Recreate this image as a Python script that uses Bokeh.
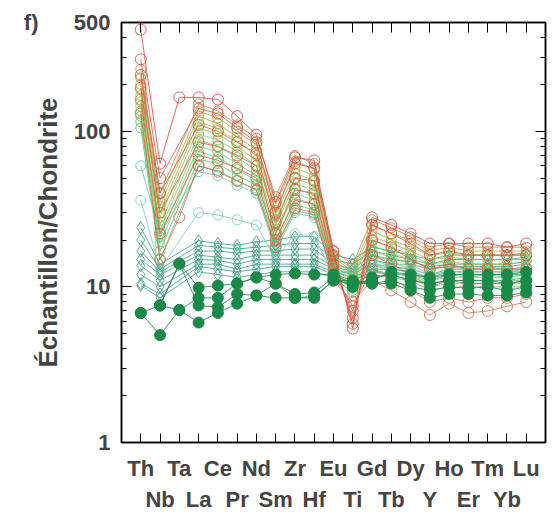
from bokeh.plotting import figure
from bokeh.models import LinearAxis, LogAxis, FixedTicker, PrintfTickFormatter
from bokeh.embed import file_html
from bokeh.resources import INLINE

elements = ["Th", "Nb", "Ta", "La", "Ce", "Pr", "Nd", "Sm", "Zr", "Hf", "Eu",
            "Ti", "Gd", "Tb", "Dy", "Y", "Ho", "Er", "Tm", "Yb", "Lu"]

# red group (open circles)
red_series = [
    [450, 62, 165, 165, 160, 125, 95, 35, 68, 65, 17, 5.4, 28, 25, 22, 19, 19, 19, 19, 18, 19],
    [290, 50, None, 140, 130, 105, 85, 30, 62, 58, 16, 5.8, 25, 22, 19, 16, 17, 16, 16, 16, 16],
    [230, 40, None, 110, 100, 85, 72, 26, 50, 48, 14, 6.3, 20, 18, 15, 13, 14, 13, 13, 13, 13],
    [190, 30, None, 85, 80, 70, 60, 22, 42, 40, 13, 7.0, 16, 14, 12, 10, 11, 10.5, 10.5, 10.5, 11],
    [160, 22, None, 70, 65, 58, 50, 20, 36, 34, 12, 7.5, 13, 11.5, 9.5, 8, 8.5, 8, 8.5, 8.5, 9],
    [130, 15, 28, 60, 55, 48, 42, 18, 32, 30, 11, 8.0, 11, 9.5, 8, 6.6, 7.8, 6.8, 7, 7.5, 8],
]

# olive to green group (open circles)
green_series = [
    [250, 40, None, 150, 135, 110, 90, 38, 70, 62, 17, 14, 27, 24, 21, 18, 19, 18, 18, 18, 18],
    [220, 36, None, 135, 122, 100, 82, 34, 64, 57, 16, 13, 25, 22, 20, 17, 18, 17, 17, 17, 17],
    [200, 33, None, 125, 112, 92, 76, 31, 58, 52, 15.5, 12.5, 23, 20, 18, 16, 16.5, 16, 16, 16, 16],
    [185, 30, None, 115, 104, 86, 70, 29, 54, 48, 15, 12, 21, 19, 17, 15, 15.5, 15, 15, 15, 15],
    [170, 28, None, 105, 96, 80, 65, 27, 50, 45, 14.5, 11.5, 20, 18, 16, 14, 14.5, 14, 14, 14, 14.5],
    [155, 25, None, 96, 88, 74, 60, 25, 46, 42, 14, 11, 18.5, 16.5, 15, 13, 13.5, 13, 13.5, 13, 13.5],
    [145, 23, None, 88, 80, 68, 56, 23, 43, 39, 13.5, 10.5, 17, 15.5, 14, 12, 12.5, 12.5, 12.5, 12.5, 12.5],
    [135, 21, None, 80, 74, 62, 52, 22, 40, 36, 13, 10, 16, 14.5, 13, 11, 12, 11.5, 12, 11.5, 12],
    [125, 19, None, 74, 68, 57, 48, 20, 37, 34, 12.5, 9.8, 15, 13.5, 12, 10.5, 11, 11, 11, 11, 11],
    [115, 17, None, 66, 62, 52, 45, 19, 34, 31, 12, 9.5, 14, 12.5, 11.5, 10, 10.5, 10.5, 10.5, 10.5, 10.5],
    [105, 15, None, 60, 56, 48, 42, 18, 31, 29, 11.5, 9.2, 13, 12, 11, 9.5, 10, 10, 10, 10, 10],
    [60, 22, None, 55, 52, 45, 40, 17, 30, 28, 12, 12.5, 14, 13, 12.5, 11, 11.5, 11.5, 11.5, 11.5, 12],
    [36, 13, None, 30, 29, 27, 25, 15, 22, 21, 12, 13, 14, 13.5, 13, 12, 12.5, 12.5, 12.5, 12.5, 13],
]

# teal group (open diamonds)
diamond_series = [
    [24, 14, None, 19.8, 19, 18.5, 19.5, 20, 21, 21, 16, 15, 18, 17, 16, 15, 16, 16, 16, 16, 16.5],
    [20, 13, None, 18.5, 18, 17.5, 18, 18.5, 19, 19, 15, 14, 17, 16, 15, 14, 15, 15, 15, 15, 15.5],
    [17, 12.5, None, 17, 17, 16.5, 17, 17, 17.5, 17.5, 14, 13, 16, 15, 14.5, 13.5, 14, 14, 14, 14, 14.5],
    [15, 12, None, 16, 15.5, 15, 16, 16, 16, 16, 13.5, 12.5, 15, 14, 14, 13, 13.5, 13.5, 13.5, 13.5, 14],
    [13.7, 11, None, 15, 14.8, 14, 15, 15, 15, 15, 13, 12, 14, 13.5, 13, 12, 13, 13, 13, 13, 13],
    [12, 10, None, 14, 14, 13, 14, 14, 14, 14, 12.5, 11.5, 13, 13, 12.5, 11.5, 12.5, 12.5, 12.5, 12.5, 12.5],
    [10.5, 9, None, 13.5, 13, 12.5, 13, 13.5, 13.5, 13.5, 12, 11, 12.5, 12, 12, 11, 12, 12, 12, 12, 12],
    [10.2, 8.5, None, 12.5, 12, 11.5, 12, 12.5, 12.5, 12.5, 11.5, 10.5, 12, 11.5, 11, 10.5, 11, 11, 11, 11, 11.5],
]

# dark green group (filled circles)
filled_series = [
    [6.8, 4.9, 7.1, 5.9, 6.8, 7.8, 8.8, 8.5, 8.5, 8.7, 11, 10.5, 10.5, 10.5, 9.5, 8.5, 9, 9, 8.8, 8.8, 9.2],
    [6.8, 7.6, 14.1, 7.6, 7.4, 9.0, 8.8, 10.5, 8.5, 8.5, 11, 11, 10.5, 11, 10, 9.5, 10, 9.8, 10, 9.5, 10],
    [None, 7.6, 7.1, 8.5, 8.5, 10.5, 11.5, 10.5, 9, 9.2, 11.5, 10, 11.5, 12, 11, 10.5, 11, 11, 11, 10.5, 11],
    [None, 7.6, 14.1, 9.9, 10.2, 10.5, 11.5, 12, 12.2, 12, 12, 10.5, 11, 12.5, 12, 11.5, 12, 12, 12, 12, 12.5],
]

y_ticks = [1, 10, 100, 500]
y_minor = [2, 3, 4, 5, 6, 7, 8, 9, 20, 30, 40, 50, 60, 70, 80, 90, 200, 300, 400]
panel_letter = "f)"

red_colors = ["#e2413a", "#e34a3e", "#e45242", "#e05a44", "#dc6246", "#d86a48"]
green_colors = ["#c0803c", "#b49c3e", "#a6ae42", "#98ba46", "#8cc24c", "#82c652", "#78c858",
                "#70c85e", "#68c664", "#60c26a", "#58be70", "#62c4a4", "#78ccbc"]
diamond_color = "#3a9e78"
filled_color = "#1a8a48"

FONT = "'Liberation Sans', Arial, sans-serif"

p = figure(width=555, height=527, y_axis_type="log", x_range=(-1, 21), y_range=(1, 500),
           output_backend="svg", toolbar_location=None,
           min_border_left=121, min_border_right=10, min_border_top=22, min_border_bottom=85)
p.xgrid.visible = False
p.ygrid.visible = False
p.outline_line_color = "black"
p.outline_line_width = 1.5
p.background_fill_color = "white"
p.border_fill_color = "white"


def pts(vals):
    xs = [i for i, v in enumerate(vals) if v is not None]
    ys = [v for v in vals if v is not None]
    return xs, ys


for vals in diamond_series:
    xs, ys = pts(vals)
    p.line(xs, ys, line_color=diamond_color, line_width=1, line_alpha=0.8)
    p.scatter(xs, ys, marker="diamond", size=12, fill_color=None, line_color=diamond_color,
              line_width=1, line_alpha=0.85)

for vals, c in zip(green_series, green_colors):
    xs, ys = pts(vals)
    p.line(xs, ys, line_color=c, line_width=1, line_alpha=0.8)
    p.scatter(xs, ys, marker="circle", size=10, fill_color=None, line_color=c,
              line_width=1, line_alpha=0.85)

for vals, c in zip(red_series, red_colors):
    xs, ys = pts(vals)
    p.line(xs, ys, line_color=c, line_width=1, line_alpha=0.8)
    p.scatter(xs, ys, marker="circle", size=11, fill_color=None, line_color=c,
              line_width=1, line_alpha=0.85)

for vals in filled_series:
    xs, ys = pts(vals)
    p.line(xs, ys, line_color=filled_color, line_width=1, line_alpha=0.85)
    p.scatter(xs, ys, marker="circle", size=11, fill_color=filled_color, line_color=filled_color)

# y axis (left)
ya = p.yaxis[0]
ya.ticker = FixedTicker(ticks=y_ticks, minor_ticks=y_minor)
ya.formatter = PrintfTickFormatter(format="%d")
ya.axis_label = "Échantillon/Chondrite"
ya.axis_label_text_font = FONT
ya.axis_label_text_font_style = "bold"
ya.axis_label_text_font_size = "26px"
ya.axis_label_standoff = 8
ya.major_label_text_font = FONT
ya.major_label_text_font_style = "bold"
ya.major_label_text_font_size = "22px"
ya.major_label_standoff = 11
ya.major_tick_in = 10
ya.major_tick_out = 0
ya.minor_tick_in = 5
ya.minor_tick_out = 0
ya.axis_line_width = 1.5

# panel letter, carried by an outer left axis with a single tick at the top
fa = LogAxis(ticker=FixedTicker(ticks=[y_ticks[-1]], minor_ticks=[]),
             major_label_overrides={y_ticks[-1]: panel_letter},
             major_label_text_font=FONT, major_label_text_font_style="bold",
             major_label_text_font_size="22px", major_label_standoff=-15,
             axis_line_color=None, major_tick_line_color=None, minor_tick_line_color=None)
p.add_layout(fa, "left")

# right mirror (ticks only)
ra = LogAxis(ticker=FixedTicker(ticks=y_ticks, minor_ticks=y_minor),
             major_label_text_color=None, major_label_text_font_size="1px",
             major_label_standoff=0,
             major_tick_in=10, major_tick_out=0,
             minor_tick_in=5, minor_tick_out=0, axis_line_width=1.5)
p.add_layout(ra, "right")

# bottom axis: labels alternate between two rows
xa = p.xaxis[0]
xa.ticker = FixedTicker(ticks=list(range(len(elements))), minor_ticks=[])
xa.major_label_overrides = {i: (e if i % 2 == 0 else "\n" + e) for i, e in enumerate(elements)}
xa.major_label_text_font = FONT
xa.major_label_text_font_style = "bold"
xa.major_label_text_font_size = "22px"
xa.major_label_text_line_height = 1.25
xa.major_label_standoff = 13
xa.major_tick_in = 9
xa.major_tick_out = 0
xa.minor_tick_line_color = None
xa.axis_line_width = 1.5

# top mirror (ticks only)
ta = LinearAxis(ticker=FixedTicker(ticks=list(range(len(elements))), minor_ticks=[]),
                major_label_text_color=None, major_label_text_font_size="1px",
                major_label_standoff=0,
                major_tick_in=10, major_tick_out=0,
                minor_tick_line_color=None, axis_line_width=1.5)
p.add_layout(ta, "above")

open("out.html", "w").write(file_html(p, INLINE))
